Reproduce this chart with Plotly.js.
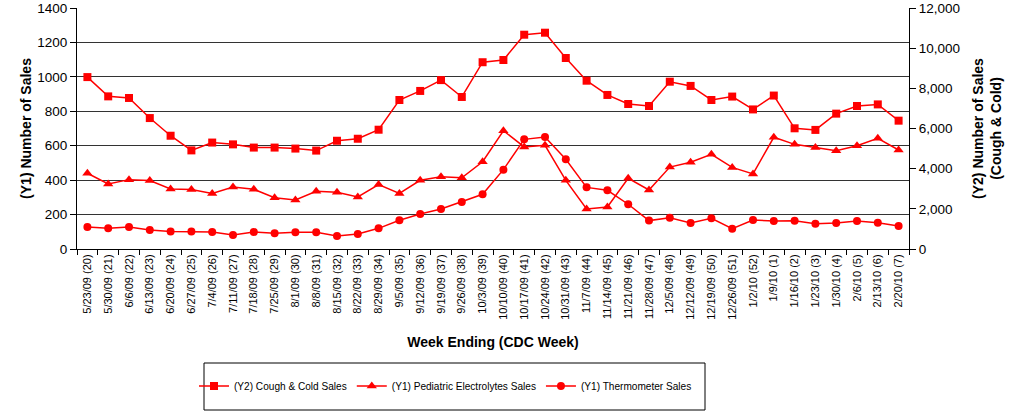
<!DOCTYPE html>
<html><head><meta charset="utf-8">
<script src="https://cdn.plot.ly/plotly-3.0.1.min.js"></script>
<style>html,body{margin:0;padding:0;background:#fff}#chart{width:1017px;height:412px}</style>
</head><body><div id="chart"></div>
<script>
const weeks = ["5/23/09 (20)","5/30/09 (21)","6/6/09 (22)","6/13/09 (23)","6/20/09 (24)","6/27/09 (25)","7/4/09 (26)","7/11/09 (27)","7/18/09 (28)","7/25/09 (29)","8/1/09 (30)","8/8/09 (31)","8/15/09 (32)","8/22/09 (33)","8/29/09 (34)","9/5/09 (35)","9/12/09 (36)","9/19/09 (37)","9/26/09 (38)","10/3/09 (39)","10/10/09 (40)","10/17/09 (41)","10/24/09 (42)","10/31/09 (43)","11/7/09 (44)","11/14/09 (45)","11/21/09 (46)","11/28/09 (47)","12/5/09 (48)","12/12/09 (49)","12/19/09 (50)","12/26/09 (51)","1/2/10 (52)","1/9/10 (1)","1/16/10 (2)","1/23/10 (3)","1/30/10 (4)","2/6/10 (5)","2/13/10 (6)","2/20/10 (7)"];
const coughCold = [8560,7600,7520,6520,5640,4910,5300,5210,5050,5050,5000,4900,5390,5490,5940,7420,7870,8410,7570,9300,9410,10670,10770,9510,8380,7670,7220,7120,8330,8120,7420,7590,6950,7640,6010,5930,6740,7120,7200,6390];
const electrolytes = [440,378,403,398,349,345,323,360,347,298,285,335,329,302,374,323,399,420,414,507,687,593,602,399,232,244,411,343,476,504,550,474,436,649,608,589,571,600,643,575];
const thermometer = [128,120,128,110,101,102,99,81,99,91,97,97,76,87,120,167,203,232,273,318,461,637,651,521,358,341,260,165,182,151,178,118,168,163,164,147,151,163,153,134];

const red = '#FF0000';
const traces = [
  {x: weeks, y: coughCold, name: '(Y2) Cough & Cold Sales', yaxis: 'y2', type: 'scatter', mode: 'lines+markers',
   line: {color: red, width: 1.5}, marker: {symbol: 'square', size: 8, color: red}},
  {x: weeks, y: electrolytes, name: '(Y1) Pediatric Electrolytes Sales', type: 'scatter', mode: 'lines+markers',
   line: {color: red, width: 1.5}, marker: {symbol: 'triangle-up', size: 9, color: red}},
  {x: weeks, y: thermometer, name: '(Y1) Thermometer Sales', type: 'scatter', mode: 'lines+markers',
   line: {color: red, width: 1.5}, marker: {symbol: 'circle', size: 8, color: red}}
];
const fam = '"Liberation Sans", Arial, sans-serif';
const fnt = {family: fam, color: '#000'};
const L = 77, R = 909, T = 8, B = 249;
const pw = R - L, ph = B - T;
const layout = {
  width: 1017, height: 412,
  margin: {l: L, r: 1017 - R, t: T, b: 412 - B, autoexpand: false},
  paper_bgcolor: '#fff', plot_bgcolor: '#fff',
  font: Object.assign({size: 12}, fnt),
  showlegend: true,
  xaxis: {type: 'category', range: [-0.5, weeks.length - 0.5], autorange: false,
    tickangle: -90, tickfont: Object.assign({size: 11}, fnt), automargin: false,
    tickson: 'boundaries', ticks: 'outside', ticklen: 5, tickcolor: '#000',
    showline: true, linecolor: '#000', linewidth: 1, showgrid: false, zeroline: false,
    title: {text: '<b>Week Ending (CDC Week)</b>', font: Object.assign({size: 14}, fnt), standoff: 18}},
  yaxis: {range: [0, 1400], dtick: 200, ticks: 'outside', ticklen: 6, tickcolor: '#000', automargin: false,
    showline: true, linecolor: '#000', linewidth: 1, showgrid: true, gridcolor: '#333', gridwidth: 1,
    zeroline: false, tickfont: Object.assign({size: 13.5}, fnt),
    title: {text: '<b>(Y1) Number of Sales</b>', font: Object.assign({size: 14}, fnt), standoff: 2}},
  yaxis2: {range: [0, 12000], dtick: 2000, tickformat: ',', overlaying: 'y', side: 'right', automargin: false,
    ticks: 'outside', ticklen: 6, tickcolor: '#000', showline: true, linecolor: '#000', linewidth: 1,
    showgrid: false, zeroline: false, tickfont: Object.assign({size: 13.5}, fnt),
    title: {text: '<b>(Y2) Number of Sales<br>(Cough & Cold)</b>', font: Object.assign({size: 14}, fnt), standoff: 14}},
  legend: {orientation: 'h', x: (194 - L) / pw, xanchor: 'left', y: (B - 386) / ph, yanchor: 'middle',
    borderwidth: 0, bgcolor: 'rgba(0,0,0,0)', font: Object.assign({size: 10.1}, fnt), itemwidth: 30},
  shapes: [{type: 'rect', xref: 'paper', yref: 'paper',
    x0: (204 - L) / pw, x1: (705 - L) / pw, y0: (B - 363) / ph, y1: (B - 410) / ph,
    line: {color: '#000', width: 1}, fillcolor: 'rgba(0,0,0,0)', layer: 'above'}]
};
Plotly.newPlot('chart', traces, layout, {displayModeBar: false, staticPlot: true});
</script></body></html>
